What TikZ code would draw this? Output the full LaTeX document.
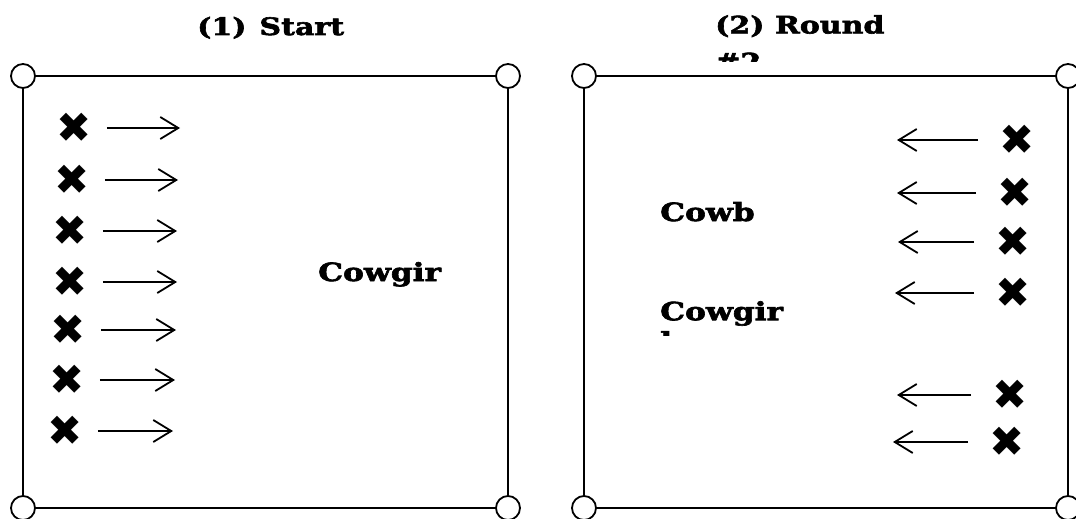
\documentclass[tikz,border=0pt]{standalone}
\usepackage{fontspec}
\usepackage{xcolor}
\usetikzlibrary{arrows.meta,positioning}
\setmainfont{DejaVu Serif}[BoldFeatures={FakeStretch=1.25,FakeBold=2.5}]
\newfontfamily\symfont{DejaVu Sans}
\tikzset{
  >={Straight Barb[length=18pt,width=22pt,line width=1.8pt]},
  corner/.style={circle, draw=black, line width=1.8pt, fill=white,
    minimum size=24pt, inner sep=0pt},
  edge/.style={line width=2pt, draw=black},
  cross/.style={font=\symfont\fontsize{42}{42}\selectfont, inner sep=0pt},
  arr/.style={->, line width=1.8pt, draw=black},
  title/.style={font=\bfseries\fontsize{24}{37}\selectfont, align=left,
    inner sep=0pt},
  cowtext/.style={font=\bfseries\fontsize{25}{30}\selectfont, align=left,
    inner sep=0pt}
}

\begin{document}
\begin{tikzpicture}[x=1pt,y=-1pt]
  \useasboundingbox (0,0) rectangle (1076,519);

  % titles
  \node[title, anchor=base west] (t1) at (197,35) {(1)\hspace{13pt}Start};
  \begin{scope}
    \clip (700,0) rectangle (960,62);
    \node[title, anchor=north west] (t2) at (715,15) {(2) Round\\\#2};
  \end{scope}

  % left panel
  \node[corner] (l1) at (23,76)  {};
  \node[corner] (l2) at (508,76) {};
  \node[corner] (l3) at (23,508) {};
  \node[corner] (l4) at (508,508) {};
  \draw[edge] (l1) -- (l2) -- (l4) -- (l3) -- (l1);

  \foreach \i/\mx/\my/\tx in {1/74/128/180, 2/72/180/178, 3/70/231/177,
      4/70/282/177, 5/68/330/176, 6/67/380/175, 7/65/431/173} {
    \node[cross] (xl\i) at (\mx,\my) {✖};
    \coordinate (al\i) at (\tx,\my);
    \draw[arr, shorten <=15pt] (xl\i.east) -- (al\i);
  }

  \node[cowtext, anchor=base west] (girl1) at (318,281) {Cowgir};

  % right panel
  \node[corner] (r1) at (584,76)   {};
  \node[corner] (r2) at (1068,76)  {};
  \node[corner] (r3) at (584,508)  {};
  \node[corner] (r4) at (1068,508) {};
  \draw[edge] (r1) -- (r2) -- (r4) -- (r3) -- (r1);

  \foreach \i/\mx/\my/\tx in {1/1017/140/897, 2/1015/193/897, 3/1013/242/898,
      4/1013/293/895, 5/1010/395/897, 6/1007/442/893} {
    \node[cross] (xr\i) at (\mx,\my) {✖};
    \coordinate (ar\i) at (\tx,\my);
    \draw[arr, shorten <=21pt] (xr\i.west) -- (ar\i);
  }

  \node[cowtext, anchor=base west] (boy) at (660,221) {Cowb};
  \begin{scope}
    \clip (640,280) rectangle (820,335);
    \node[cowtext, anchor=north west] (girl2) at (660,301) {Cowgir\\l};
  \end{scope}
\end{tikzpicture}
\end{document}
